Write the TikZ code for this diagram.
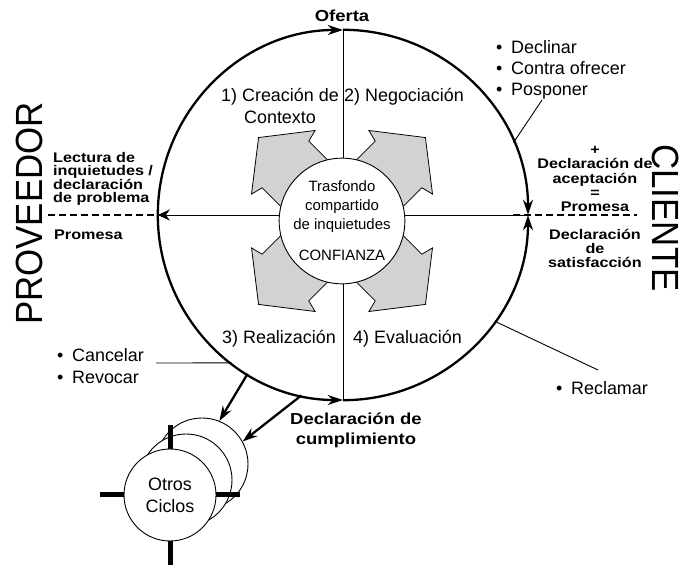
\documentclass[tikz,border=0pt]{standalone}
\usepackage{fontspec}
\setmainfont{Liberation Sans}
\newfontfamily\etiqfont[FakeStretch=1.16]{Liberation Sans}
\newfontfamily\ladofont[FakeStretch=0.92]{Liberation Sans}
\usetikzlibrary{arrows.meta}
\lineskiplimit=-20pt
\newcommand{\punto}{\makebox[15pt][l]{\textbullet}}
\tikzset{
	>={Stealth[length=15bp,width=10bp]},
	aro/.style={line width=2.3bp},
	eje/.style={line width=0.9bp},
	linea/.style={line width=0.9bp},
	guion/.style={dash pattern=on 7bp off 4bp, line width=1.6bp},
	bloque/.style={draw, line width=0.8bp, fill=gray!35},
	texto/.style={font=\fontsize{18}{22}\selectfont, inner sep=0pt},
	negrita/.style={font=\etiqfont\bfseries\fontsize{14}{13.6}\selectfont, inner sep=0pt},
	negrita2/.style={font=\etiqfont\bfseries\fontsize{14}{14.3}\selectfont, inner sep=0pt},
	titulo/.style={font=\etiqfont\bfseries\fontsize{16}{20}\selectfont, inner sep=0pt},
	lado/.style={font=\ladofont\fontsize{38}{40}\selectfont, inner sep=0pt},
	flecha/.style={line width=2.3bp, ->},
	otro/.style={circle, draw, fill=white, line width=0.9bp, minimum size=92bp, inner sep=0pt},
	cruz/.style={line width=5bp}
}

\begin{document}
\begin{tikzpicture}[x=1bp,y=1bp]
	%\draw[help lines] (0,0) grid (684,566);
	\useasboundingbox (0,0) rectangle (684,566);

	\node[circle, minimum size=370bp, inner sep=0pt] (ciclo) at (343,351) {};

	% ejes
	\draw[eje] (ciclo.north) -- (ciclo.south);
	\draw[eje, -{Stealth[length=12bp,width=11bp]}] (ciclo.east) -- (ciclo.west);

	\coordinate (nucleo) at (342,345);
	\foreach \a in {45,135,225,315}{
		\draw[bloque, shift={(nucleo)}, rotate=\a] (40,33) -- (80,33) -- (83,45) -- (118,0) -- (83,-45) -- (80,-33) -- (40,-33) -- cycle;
	}
	\node[circle, draw, fill=white, line width=0.9bp, minimum size=122bp, inner sep=0pt, align=center, font=\fontsize{15}{19}\selectfont] (trasfondo) at (nucleo) {Trasfondo\\compartido\\de inquietudes\\[12pt]CONFIANZA};

	% arcos del ciclo
	\foreach \i/\f in {180/90,90/0,180/270,270/360}{
		\draw[aro, ->] (ciclo.\i) arc[start angle=\i, end angle=\f, radius=185bp];
	}

	\coordinate (izq) at (48,351);
	\coordinate (der) at (637,351);
	\draw[guion] (izq) -- (ciclo.west);
	\draw[guion] ([xshift=-15bp]ciclo.east) -- (der);

	% etiquetas
	\node[titulo] (oferta) at (342,550) {Oferta};
	\node[texto, align=center] (fase1) at (280,460) {1) Creación de\\Contexto};
	\node[texto, anchor=base west] (fase2) at (344,464.5) {2) Negociación};
	\node[texto, anchor=base east] (fase3) at (336,222.5) {3) Realización};
	\node[texto, anchor=base west] (fase4) at (353,222.5) {4) Evaluación};

	\node[negrita, align=left, anchor=south west] (lectura) at (53,360) {Lectura de\\inquietudes /\\declaración\\de problema};
	\node[negrita, anchor=north west] (promesa) at (54,336) {Promesa};
	\node[negrita2, align=center, anchor=south] (aceptacion) at (595,354) {+\\Declaración de\\aceptación\\=\\Promesa};
	\node[negrita2, align=center, anchor=north] (satisfaccion) at (595,337) {Declaración\\de\\satisfacción};
	\node[titulo, align=center] (cumplimiento) at (356,136) {Declaración de\\cumplimiento};

	\node[lado, rotate=90] (proveedor) at (29,352.5) {PROVEEDOR};
	\node[lado, rotate=-90] (cliente) at (666,348) {CLIENTE};

	\node[texto, align=left, anchor=north west, font=\fontsize{18}{21}\selectfont] (opciones) at (496,525.5) {\punto Declinar\\\punto Contra ofrecer\\\punto Posponer};
	\node[texto, align=left, anchor=north west] (anular) at (57,217.5) {\punto Cancelar\\\punto Revocar};
	\node[texto, anchor=base west] (reclamar) at (556,171.5) {\punto Reclamar};

	% conectores
	\coordinate (posp) at (542,466);
	\coordinate (recl) at (598,196);
	\coordinate (canc) at (156,203);
	\draw[linea] (posp) -- (ciclo.23);
	\draw[linea] (ciclo.325) -- (recl);
	\draw[linea] (canc) -- (ciclo.233);

	% otros ciclos
	\node[otro] (otros3) at (202,102) {};
	\node[otro] (otros2) at (186,86) {};
	\node[otro, align=center, font=\fontsize{18}{22}\selectfont] (otros) at (170,71) {Otros\\Ciclos};
	\foreach \a in {0,90,180,270}
		\draw[cruz] (otros.\a) -- ++(\a:24bp);

	\draw[flecha] (ciclo.239) -- (otros3.68);
	\draw[flecha] (ciclo.257) -- (otros3.29);

\end{tikzpicture}
\end{document}
